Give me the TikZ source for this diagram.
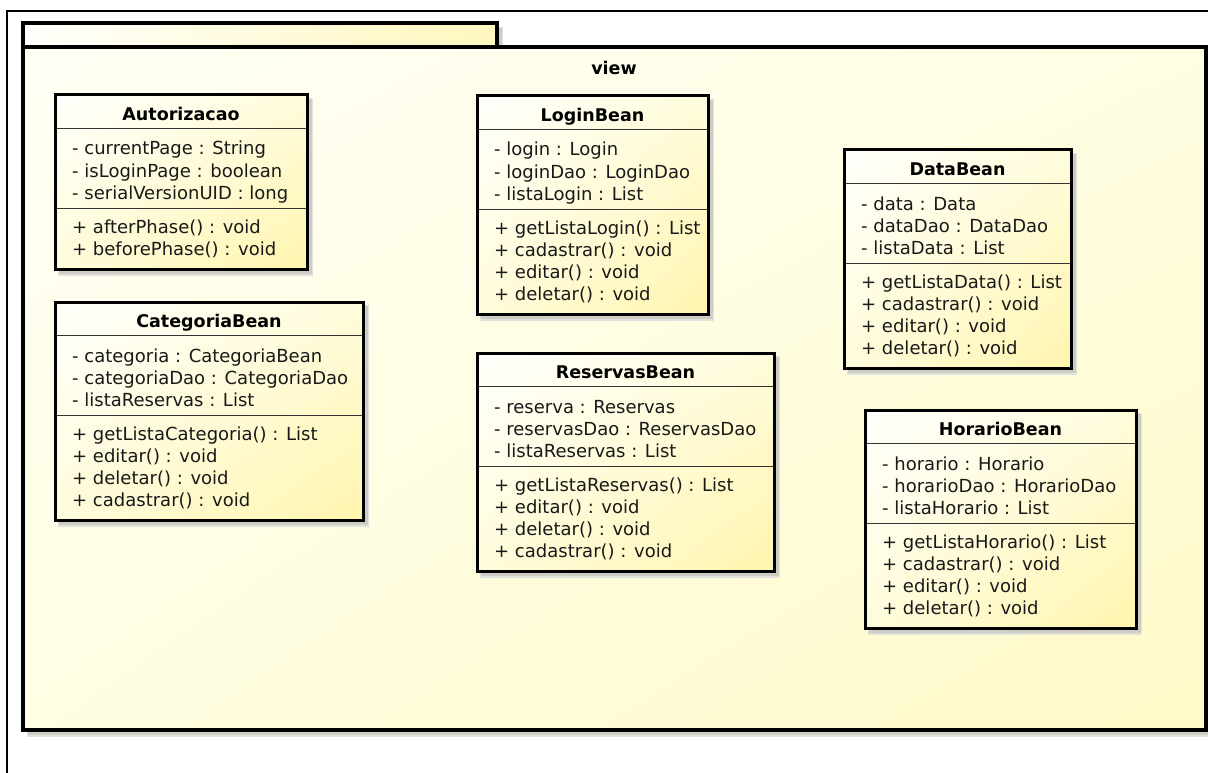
\documentclass[tikz,border=0pt]{standalone}
\usepackage{fontspec}
\setmainfont{DejaVu Sans}
\usetikzlibrary{shadings}
\begin{document}
\definecolor{pkglight}{HTML}{FFFFF6}
\definecolor{pkgmid}{HTML}{FFFDE2}
\definecolor{pkgdark}{HTML}{FFFAC8}
\definecolor{clslight}{HTML}{FFFFFC}
\definecolor{clsmid}{HTML}{FFFCDC}
\definecolor{clsdark}{HTML}{FFF5AE}
\definecolor{shadowgray}{HTML}{CDCDC6}
\definecolor{shadowsoft}{HTML}{E2E2DC}
\tikzset{
  pkgfill/.style={upper left=pkglight, upper right=pkgmid, lower left=pkgmid, lower right=pkgdark},
  tabfill/.style={left color=clslight, right color=clsdark!80!white},
  classfill/.style={upper left=clslight, upper right=clsmid, lower left=clsmid, lower right=clsdark},
  boxshadow/.style={fill=shadowgray},
  softshadow/.style={fill=shadowsoft},
  classborder/.style={draw=black, line width=3pt},
  pkgborder/.style={draw=black, line width=3.4pt},
  divider/.style={draw=black!80, line width=1.6pt},
  frameline/.style={draw=black, line width=1.5pt},
  titletext/.style={anchor=base, inner sep=0pt, font=\fontsize{17.5}{20}\selectfont\bfseries},
  membertext/.style={anchor=base west, inner sep=0pt, font=\fontsize{18}{22}\selectfont, text=black!90},
}
% #1 id, #2 left, #3 top, #4 right, #5 number of operations,
% #6 class name, #7 attributes, #8 operations
\newcommand\umlclass[8]{%
  \pgfmathsetmacro\hd{#3+33.5}%
  \pgfmathsetmacro\ad{\hd+80}%
  \pgfmathsetmacro\bt{\ad+17+22*#5}%
  \fill[softshadow] (#2+3,#3+3) rectangle (#4+6,\bt+6);
  \fill[boxshadow] (#2+4,#3+4) rectangle (#4+4.5,\bt+4.5);
  \shade[classfill] (#2,#3) rectangle (#4,\bt);
  \draw[divider] (#2,\hd) -- (#4,\hd);
  \draw[divider] (#2,\ad) -- (#4,\ad);
  \draw[classborder] (#2,#3) rectangle (#4,\bt);
  \node[titletext] (#1-title) at ({(#2+#4)/2},\hd-8) {#6};
  \foreach \t [count=\i] in {#7}
    \node[membertext] (#1-a\i) at (#2+17,\hd+26.5+22.2*\i-22.2) {\t};
  \foreach \t [count=\i] in {#8}
    \node[membertext] (#1-o\i) at (#2+17,\ad+25+22*\i-22) {\t};
}
\begin{tikzpicture}[x=1pt,y=-1pt]
\useasboundingbox (0,0) rectangle (1208,773);
\fill[white] (0,0) rectangle (1208,773);
% outer frame
\draw[frameline] (7,773) -- (7,11) -- (1208,11);
% package "view": tab and body
\fill[softshadow] (27,27) rectangle (503,51);
\fill[boxshadow] (28,28) rectangle (502,50);
\fill[softshadow] (27,51) rectangle (1212,737);
\fill[boxshadow] (28,52) rectangle (1211,735);
\shade[tabfill] (23,23) rectangle (497,47);
\draw[pkgborder] (23,23) rectangle (497,47);
\shade[pkgfill] (23,47) rectangle (1206,730);
\draw[pkgborder] (23,47) rectangle (1206,730);
\node[titletext] (view) at (614,75) {view};
% classes
\umlclass{aut}{55}{95}{307}{2}{Autorizacao}
  {- currentPage : String, - isLoginPage : boolean, - serialVersionUID : long}
  {+ afterPhase() : void, + beforePhase() : void}
\umlclass{cat}{55}{302}{363}{4}{CategoriaBean}
  {- categoria : CategoriaBean, - categoriaDao : CategoriaDao, - listaReservas : List}
  {+ getListaCategoria() : List, + editar() : void, + deletar() : void, + cadastrar() : void}
\umlclass{login}{477}{96}{708}{4}{LoginBean}
  {- login : Login, - loginDao : LoginDao, - listaLogin : List}
  {+ getListaLogin() : List, + cadastrar() : void, + editar() : void, + deletar() : void}
\umlclass{res}{477}{353}{774}{4}{ReservasBean}
  {- reserva : Reservas, - reservasDao : ReservasDao, - listaReservas : List}
  {+ getListaReservas() : List, + editar() : void, + deletar() : void, + cadastrar() : void}
\umlclass{data}{844}{150}{1071}{4}{DataBean}
  {- data : Data, - dataDao : DataDao, - listaData : List}
  {+ getListaData() : List, + cadastrar() : void, + editar() : void, + deletar() : void}
\umlclass{hor}{865}{410}{1136}{4}{HorarioBean}
  {- horario : Horario, - horarioDao : HorarioDao, - listaHorario : List}
  {+ getListaHorario() : List, + cadastrar() : void, + editar() : void, + deletar() : void}
\end{tikzpicture}
\end{document}
